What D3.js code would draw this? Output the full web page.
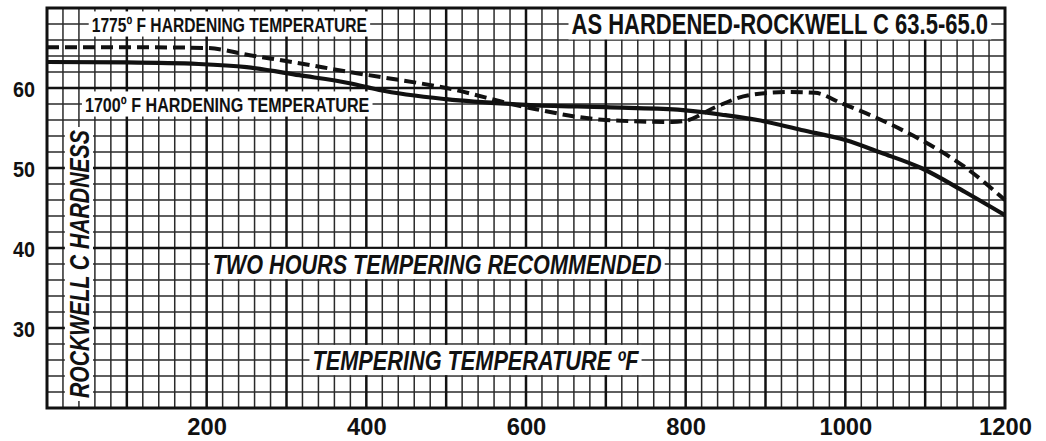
<!DOCTYPE html>
<html>
<head>
<meta charset="utf-8">
<script src="https://cdn.jsdelivr.net/npm/d3@7"></script>
<style>
  html, body { margin: 0; padding: 0; background: #fff; }
  svg { display: block; }
</style>
</head>
<body>
<svg id="chart" width="1046" height="441"></svg>
<script>
// ---- data ----
const xTicks = [200, 400, 600, 800, 1000, 1200];
const yTicks = [30, 40, 50, 60];

const temps1700 = [0, 100, 190, 250, 316, 379, 416, 500, 600, 700, 790, 850, 890, 945, 1000, 1045, 1095, 1150, 1200];
const hrc1700   = [63.25, 63.2, 63.0, 62.6, 61.6, 60.6, 59.75, 58.6, 57.9, 57.6, 57.3, 56.6, 56.0, 54.75, 53.5, 51.9, 50.0, 47.0, 44.1];

const temps1775 = [0, 100, 200, 254, 316, 379, 416, 500, 600, 700, 783, 800, 837, 879, 929, 962, 995, 1045, 1095, 1150, 1200];
const hrc1775   = [65.1, 65.1, 65.0, 64.1, 63.1, 62.0, 61.4, 60.0, 57.6, 56.0, 55.75, 55.9, 57.6, 59.1, 59.5, 59.4, 58.1, 56.0, 53.5, 50.1, 46.0];

const labelTop1775 = "1775º F HARDENING TEMPERATURE";
const labelTop1700 = "1700º F HARDENING TEMPERATURE";
const labelTitle   = "AS HARDENED-ROCKWELL C 63.5-65.0";
const labelNote    = "TWO HOURS TEMPERING RECOMMENDED";
const labelXAxis   = "TEMPERING TEMPERATURE ºF";
const labelYAxis   = "ROCKWELL C HARDNESS";

// ---- layout ----
const L = 47, R = 1005, T = 8, B = 408;
const svg = d3.select("#chart");
const x = d3.scaleLinear().domain([0, 1200]).range([L, R]);
const y = d3.scaleLinear().domain([20, 70]).range([B, T]);

const font = "'Liberation Sans', Arial, Helvetica, sans-serif";

svg.append("rect").attr("width", 1046).attr("height", 441).attr("fill", "#fff");

const grid = svg.append("g");
const minorX = d3.range(20, 1200, 20).filter(v => v % 100 !== 0);
const minorY = d3.range(22, 70, 2).filter(v => v % 10 !== 0);
grid.selectAll("line.mx").data(minorX).join("line")
  .attr("x1", d => x(d)).attr("x2", d => x(d)).attr("y1", T).attr("y2", B)
  .attr("stroke", "#2a2a2a").attr("stroke-width", 1.5);
grid.selectAll("line.my").data(minorY).join("line")
  .attr("y1", d => y(d)).attr("y2", d => y(d)).attr("x1", L).attr("x2", R)
  .attr("stroke", "#2a2a2a").attr("stroke-width", 1.5);
const majorX = d3.range(100, 1200, 100);
const majorY = d3.range(30, 70, 10);
grid.selectAll("line.MX").data(majorX).join("line")
  .attr("x1", d => x(d)).attr("x2", d => x(d)).attr("y1", T).attr("y2", B)
  .attr("stroke", "#111").attr("stroke-width", 2.5);
grid.selectAll("line.MY").data(majorY).join("line")
  .attr("y1", d => y(d)).attr("y2", d => y(d)).attr("x1", L).attr("x2", R)
  .attr("stroke", "#111").attr("stroke-width", 2.5);

// ---- curves ----
const line = d3.line().x(d => x(d[0])).y(d => y(d[1])).curve(d3.curveMonotoneX);
svg.append("path").datum(d3.zip(temps1700, hrc1700))
  .attr("d", line).attr("fill", "none").attr("stroke", "#111").attr("stroke-width", 4.2);
svg.append("path").datum(d3.zip(temps1775, hrc1775))
  .attr("d", line).attr("fill", "none").attr("stroke", "#111").attr("stroke-width", 4)
  .attr("stroke-dasharray", "12,6");

// ---- in-plot labels with white boxes (text squeezed horizontally to look condensed) ----
function squeezedText(g, text, fs, italic) {
  const t = g.append("text")
    .attr("font-family", font).attr("font-weight", "bold")
    .attr("font-style", italic ? "italic" : "normal")
    .attr("font-size", fs).attr("fill", "#111").text(text);
  return t;
}
function boxLabel(text, x0, x1, yv, fs, italic) {
  const g = svg.append("g");
  const cy = y(yv);
  const cap = fs * 0.72;
  const px0 = x(x0), px1 = x(x1);
  g.append("rect")
    .attr("x", px0 - 3).attr("width", px1 - px0 + 6)
    .attr("y", cy - cap / 2 - 5).attr("height", cap + 10)
    .attr("fill", "#fff");
  const t = squeezedText(g, text, fs, italic);
  const w = t.node().getComputedTextLength();
  const s = (px1 - px0) / w;
  t.attr("transform", `translate(${px0},${cy + cap / 2}) scale(${s},1)`);
}
boxLabel(labelTop1775, 56, 401, 68, 21, false);
boxLabel(labelTop1700, 47.5, 404, 58, 21, false);
boxLabel(labelTitle, 657, 1179, 68, 29, false);
boxLabel(labelNote, 207.5, 770, 38, 28, true);
boxLabel(labelXAxis, 332.5, 741, 26, 28, true);

// vertical y-axis title
(function () {
  const fs = 28, cap = fs * 0.72;
  const cx = x(40);
  const py0 = y(54.75), py1 = y(21.25);
  const g = svg.append("g");
  g.append("rect").attr("x", cx - cap / 2 - 4).attr("width", cap + 8)
    .attr("y", py0 - 3).attr("height", py1 - py0 + 6).attr("fill", "#fff");
  const t = squeezedText(g, labelYAxis, fs, true);
  const w = t.node().getComputedTextLength();
  const s = (py1 - py0) / w;
  t.attr("transform", `translate(${cx + cap / 2},${py1}) rotate(-90) scale(${s},1)`);
})();

// border
svg.append("rect").attr("x", L).attr("y", T).attr("width", R - L).attr("height", B - T)
  .attr("fill", "none").attr("stroke", "#111").attr("stroke-width", 3);

// ---- axes (tick labels only) ----
const xAxis = d3.axisBottom(x).tickValues(xTicks).tickSize(0).tickPadding(0).tickFormat(d3.format("d"));
const gx = svg.append("g").attr("transform", `translate(0,${B})`).call(xAxis);
gx.select(".domain").remove();
gx.selectAll("text").attr("dy", null).attr("y", 27)
  .attr("font-family", font).attr("font-weight", "bold").attr("font-size", 24).attr("fill", "#111")
  .attr("transform", function () { return null; });
gx.selectAll(".tick").each(function (d) {
  d3.select(this).select("text").attr("textLength", String(d).length * 13.2).attr("lengthAdjust", "spacingAndGlyphs");
});

const yAxis = d3.axisLeft(y).tickValues(yTicks).tickSize(0).tickPadding(0).tickFormat(d3.format("d"));
const gy = svg.append("g").attr("transform", `translate(${L - 12},0)`).call(yAxis);
gy.select(".domain").remove();
gy.selectAll("text").attr("dy", null).attr("y", 8)
  .attr("font-family", font).attr("font-weight", "bold").attr("font-size", 22).attr("fill", "#111")
  .attr("textLength", 22).attr("lengthAdjust", "spacingAndGlyphs");
</script>
</body>
</html>
